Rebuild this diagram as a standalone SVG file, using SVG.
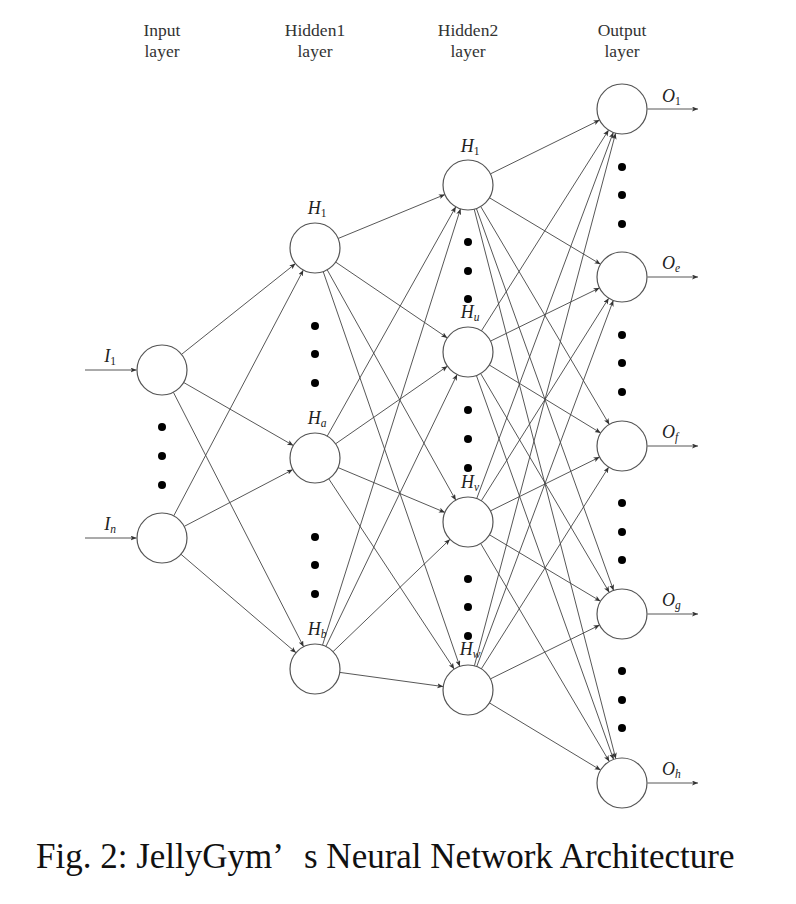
<svg xmlns="http://www.w3.org/2000/svg" width="796" height="904" viewBox="0 0 796 904">
<style>
.bg{fill:#fff}
.node circle{fill:#fff;stroke:#555;stroke-width:1.2}
.hdr{font-family:"Liberation Serif",serif;font-size:17.5px;fill:#333;text-anchor:middle}
.lbl{font-family:"Liberation Serif",serif;font-size:18px;font-style:italic;fill:#222;text-anchor:middle}
.lbl-s{font-family:"Liberation Serif",serif;font-size:18px;font-style:italic;fill:#222}
.sub{font-size:11.5px;font-style:normal}
.subi{font-size:11.5px;font-style:italic}
.edges line{stroke:#444;stroke-width:0.9;fill:none;marker-end:url(#arr)}
.dot{fill:#000}
.cap{font-family:"Liberation Serif",serif;font-size:35px;fill:#111}
</style>
<defs>
<marker id="arr" markerUnits="userSpaceOnUse" markerWidth="7" markerHeight="6" refX="6" refY="2.5" orient="auto">
<path d="M0,0 L6,2.5 L0,5 L1.5,2.5 z" fill="#333"/>
</marker>
</defs>
<rect class="bg" x="0" y="0" width="796" height="904"/>

<g id="headers">
<text class="hdr" x="162" y="36">Input</text><text class="hdr" x="162" y="57">layer</text>
<text class="hdr" x="315" y="36">Hidden1</text><text class="hdr" x="315" y="57">layer</text>
<text class="hdr" x="468" y="36">Hidden2</text><text class="hdr" x="468" y="57">layer</text>
<text class="hdr" x="622" y="36">Output</text><text class="hdr" x="622" y="57">layer</text>
</g>

<g id="connectors" class="edges">
<line x1="85" y1="370" x2="136.5" y2="370"/>
<line x1="85" y1="538" x2="136.5" y2="538"/>
<line x1="181.5" y1="354.4" x2="295.5" y2="263.6"/>
<line x1="183.7" y1="382.5" x2="293.3" y2="445.5"/>
<line x1="173.4" y1="392.3" x2="303.6" y2="646.7"/>
<line x1="173.7" y1="515.9" x2="303.3" y2="270.1"/>
<line x1="184.2" y1="526.4" x2="292.8" y2="469.6"/>
<line x1="181.0" y1="554.3" x2="296.0" y2="652.7"/>
<line x1="338.1" y1="238.5" x2="444.9" y2="194.5"/>
<line x1="335.7" y1="262.1" x2="447.3" y2="337.9"/>
<line x1="327.2" y1="269.8" x2="455.8" y2="500.2"/>
<line x1="323.2" y1="271.6" x2="459.8" y2="666.4"/>
<line x1="327.2" y1="436.2" x2="455.8" y2="206.8"/>
<line x1="335.6" y1="443.8" x2="447.4" y2="366.2"/>
<line x1="338.1" y1="467.6" x2="444.9" y2="512.4"/>
<line x1="328.8" y1="478.9" x2="454.2" y2="669.1"/>
<line x1="322.5" y1="645.2" x2="460.5" y2="208.8"/>
<line x1="325.9" y1="646.5" x2="457.1" y2="374.5"/>
<line x1="333.0" y1="651.7" x2="450.0" y2="539.3"/>
<line x1="339.8" y1="672.4" x2="443.2" y2="686.6"/>
<line x1="490.4" y1="173.9" x2="599.6" y2="120.1"/>
<line x1="489.5" y1="197.8" x2="600.5" y2="264.2"/>
<line x1="480.7" y1="206.5" x2="609.3" y2="424.5"/>
<line x1="476.4" y1="208.5" x2="613.6" y2="590.5"/>
<line x1="474.2" y1="209.2" x2="615.8" y2="758.8"/>
<line x1="481.4" y1="330.9" x2="608.6" y2="130.1"/>
<line x1="490.5" y1="341.1" x2="599.5" y2="287.9"/>
<line x1="489.3" y1="365.0" x2="600.7" y2="433.0"/>
<line x1="480.7" y1="373.6" x2="609.3" y2="592.4"/>
<line x1="476.4" y1="375.5" x2="613.6" y2="759.5"/>
<line x1="476.7" y1="498.6" x2="613.3" y2="132.4"/>
<line x1="481.3" y1="500.8" x2="608.7" y2="298.2"/>
<line x1="490.4" y1="510.9" x2="599.6" y2="457.1"/>
<line x1="489.5" y1="534.8" x2="600.5" y2="601.2"/>
<line x1="480.7" y1="543.5" x2="609.3" y2="761.5"/>
<line x1="474.4" y1="665.8" x2="615.6" y2="133.2"/>
<line x1="476.7" y1="666.6" x2="613.3" y2="300.4"/>
<line x1="481.3" y1="668.9" x2="608.7" y2="467.1"/>
<line x1="490.4" y1="678.9" x2="599.6" y2="625.1"/>
<line x1="489.4" y1="702.9" x2="600.6" y2="770.1"/>
<line x1="647.5" y1="109" x2="698" y2="109"/>
<line x1="647.5" y1="277" x2="698" y2="277"/>
<line x1="647.5" y1="446" x2="698" y2="446"/>
<line x1="647.5" y1="614" x2="698" y2="614"/>
<line x1="647.5" y1="783" x2="698" y2="783"/>
</g>

<g id="dots">
<circle class="dot" cx="162" cy="427" r="4"/><circle class="dot" cx="162" cy="456" r="4"/><circle class="dot" cx="162" cy="485" r="4"/>
<circle class="dot" cx="315" cy="326" r="4"/><circle class="dot" cx="315" cy="354" r="4"/><circle class="dot" cx="315" cy="383" r="4"/>
<circle class="dot" cx="315" cy="537" r="4"/><circle class="dot" cx="315" cy="565" r="4"/><circle class="dot" cx="315" cy="594" r="4"/>
<circle class="dot" cx="468" cy="242" r="4"/><circle class="dot" cx="468" cy="271" r="4"/><circle class="dot" cx="468" cy="299" r="4"/>
<circle class="dot" cx="468" cy="410" r="4"/><circle class="dot" cx="468" cy="439" r="4"/><circle class="dot" cx="468" cy="468" r="4"/>
<circle class="dot" cx="468" cy="579" r="4"/><circle class="dot" cx="468" cy="607" r="4"/><circle class="dot" cx="468" cy="636" r="4"/>
<circle class="dot" cx="622" cy="167" r="4"/><circle class="dot" cx="622" cy="195" r="4"/><circle class="dot" cx="622" cy="224" r="4"/>
<circle class="dot" cx="622" cy="335" r="4"/><circle class="dot" cx="622" cy="363" r="4"/><circle class="dot" cx="622" cy="392" r="4"/>
<circle class="dot" cx="622" cy="503" r="4"/><circle class="dot" cx="622" cy="532" r="4"/><circle class="dot" cx="622" cy="560" r="4"/>
<circle class="dot" cx="622" cy="671" r="4"/><circle class="dot" cx="622" cy="700" r="4"/><circle class="dot" cx="622" cy="728" r="4"/>
</g>

<g id="in1" class="node"><circle cx="162" cy="370" r="25"/><text class="lbl" x="110" y="362">I<tspan class="sub" dy="3">1</tspan></text></g>
<g id="inn" class="node"><circle cx="162" cy="538" r="25"/><text class="lbl" x="110" y="530">I<tspan class="subi" dy="3">n</tspan></text></g>

<g id="h1_1" class="node"><circle cx="315" cy="248" r="25"/><text class="lbl" x="317" y="214">H<tspan class="sub" dy="3">1</tspan></text></g>
<g id="h1_a" class="node"><circle cx="315" cy="458" r="25"/><text class="lbl" x="317" y="424">H<tspan class="subi" dy="3">a</tspan></text></g>
<g id="h1_b" class="node"><circle cx="315" cy="669" r="25"/><text class="lbl" x="317" y="635">H<tspan class="subi" dy="3">b</tspan></text></g>

<g id="h2_1" class="node"><circle cx="468" cy="185" r="25"/><text class="lbl" x="470" y="152">H<tspan class="sub" dy="3">1</tspan></text></g>
<g id="h2_u" class="node"><circle cx="468" cy="352" r="25"/><text class="lbl" x="470" y="318">H<tspan class="subi" dy="3">u</tspan></text></g>
<g id="h2_v" class="node"><circle cx="468" cy="522" r="25"/><text class="lbl" x="470" y="488">H<tspan class="subi" dy="3">v</tspan></text></g>
<g id="h2_w" class="node"><circle cx="468" cy="690" r="25"/><text class="lbl" x="470" y="655">H<tspan class="subi" dy="3">w</tspan></text></g>

<g id="o1" class="node"><circle cx="622" cy="109" r="25"/><text class="lbl-s" x="662" y="102">O<tspan class="sub" dy="3">1</tspan></text></g>
<g id="oe" class="node"><circle cx="622" cy="277" r="25"/><text class="lbl-s" x="662" y="269">O<tspan class="subi" dy="3">e</tspan></text></g>
<g id="of" class="node"><circle cx="622" cy="446" r="25"/><text class="lbl-s" x="662" y="438">O<tspan class="subi" dy="3">f</tspan></text></g>
<g id="og" class="node"><circle cx="622" cy="614" r="25"/><text class="lbl-s" x="662" y="606">O<tspan class="subi" dy="3">g</tspan></text></g>
<g id="oh" class="node"><circle cx="622" cy="783" r="25"/><text class="lbl-s" x="662" y="775">O<tspan class="subi" dy="3">h</tspan></text></g>

<text class="cap" x="36" y="868">Fig. 2: JellyGym’ <tspan x="304">s Neural Network Architecture</tspan></text>
</svg>
